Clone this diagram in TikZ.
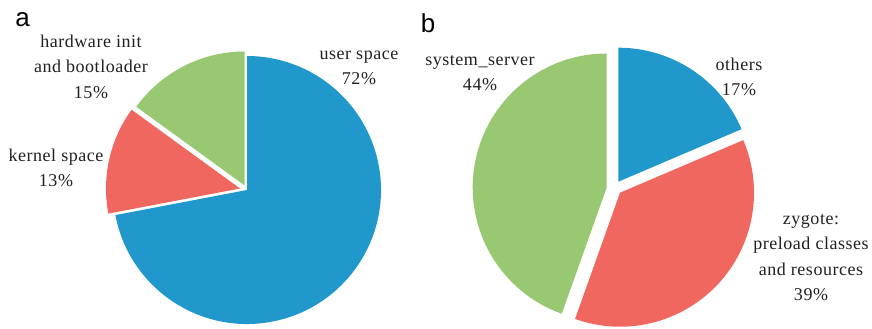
\documentclass[tikz,border=0pt]{standalone}
\usepackage{fontspec}
\setmainfont{Liberation Serif}[LetterSpace=3]
\newfontfamily\panelfont{Liberation Sans}
\definecolor{pieblue}{RGB}{32,152,203}
\definecolor{piered}{RGB}{240,103,95}
\definecolor{piegreen}{RGB}{152,200,114}
\definecolor{txt}{RGB}{35,31,32}
\begin{document}
\begin{tikzpicture}[x=1pt,y=1pt,
  lbl/.style={font=\fontsize{18}{25.5}\selectfont, align=center, anchor=base, inner sep=0pt, text=txt},
  panel/.style={font=\panelfont\fontsize{26}{28}\selectfont, anchor=base, inner sep=0pt, text=black}]
\useasboundingbox (0,0) rectangle (872,329);
% ---- pie a ----
\coordinate (ca) at (247,139);
\coordinate (ra) at (240,140.5);
\coordinate (ga) at (244.7,143.5);
\fill[pieblue] (ca) -- ++(190.8:134) arc[start angle=190.8, end angle=450, radius=134] -- cycle;
\fill[piered] (ra) -- ++(144:134) arc[start angle=144, end angle=190.8, radius=134] -- cycle;
\fill[piegreen] (ga) -- ++(90:134) arc[start angle=90, end angle=144, radius=134] -- cycle;
% ---- pie b ----
\coordinate (bb) at (618.3,147.3);
\coordinate (rb) at (620,136.3);
\coordinate (gb) at (606.7,141.5);
\fill[pieblue] (bb) -- ++(23.1:134) arc[start angle=23.1, end angle=90, radius=134] -- cycle;
\fill[piered] (rb) -- ++(-109.6:134) arc[start angle=-109.6, end angle=23.1, radius=134] -- cycle;
\fill[piegreen] (gb) -- ++(90:134) arc[start angle=90, end angle=250.4, radius=134] -- cycle;
% ---- labels (anchor = baseline of last line) ----
\node[panel] (pa) at (22.5,302.3) {a};
\node[panel] (pb) at (428.2,296.3) {b};
\node[lbl] (hw) at (91,230.7) {hardware init\\and bootloader\\15\%};
\node[lbl] (ks) at (56,142.3) {kernel space\\13\%};
\node[lbl] (us) at (359,244) {user space\\72\%};
\node[lbl] (ss) at (480,238) {system\_server\\44\%};
\node[lbl] (ot) at (739,233) {others\\17\%};
\node[lbl] (zy) at (811,28.3) {zygote:\\preload classes\\and resources\\39\%};
\end{tikzpicture}
\end{document}
